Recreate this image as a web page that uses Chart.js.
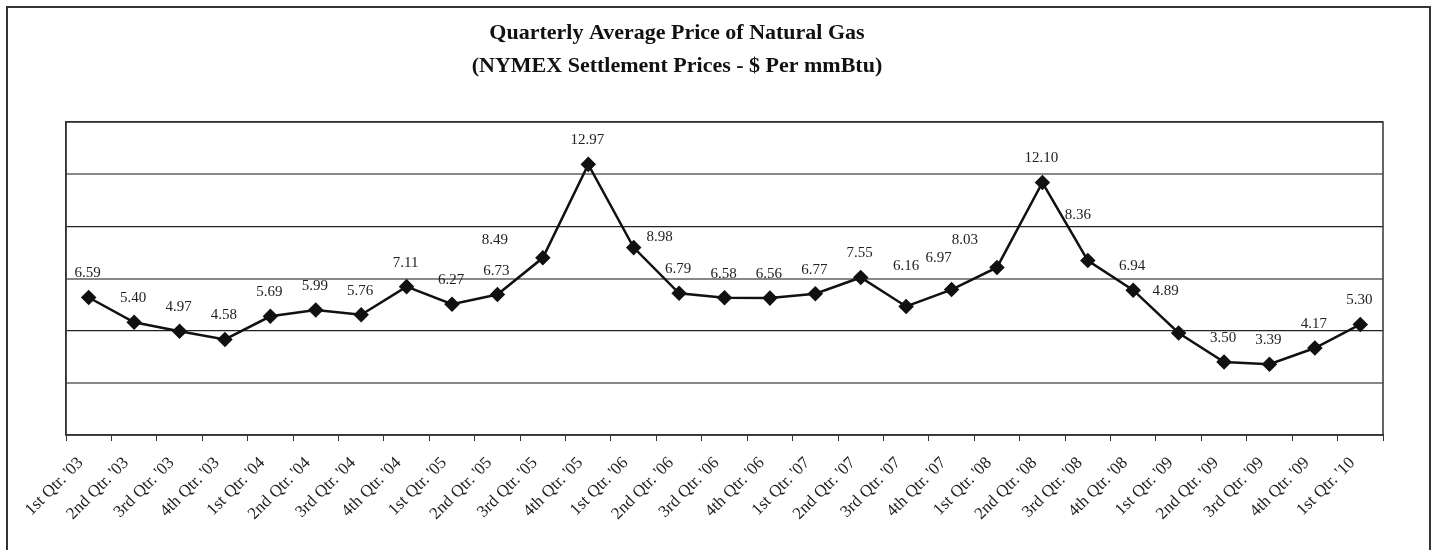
<!DOCTYPE html>
<html>
<head>
<meta charset="utf-8">
<script src="https://cdn.jsdelivr.net/npm/chart.js@4"></script>
<style>
  html, body { margin: 0; padding: 0; background: #fff; }
  #wrap { position: relative; width: 1432px; height: 550px; }
</style>
</head>
<body>
<div id="wrap"><canvas id="gasChart" width="1432" height="550"></canvas></div>
<script>
// Quarters along the x axis
const quarters = [
    "1st Qtr. '03", "2nd Qtr. '03", "3rd Qtr. '03", "4th Qtr. '03",
    "1st Qtr. '04", "2nd Qtr. '04", "3rd Qtr. '04", "4th Qtr. '04",
    "1st Qtr. '05", "2nd Qtr. '05", "3rd Qtr. '05", "4th Qtr. '05",
    "1st Qtr. '06", "2nd Qtr. '06", "3rd Qtr. '06", "4th Qtr. '06",
    "1st Qtr. '07", "2nd Qtr. '07", "3rd Qtr. '07", "4th Qtr. '07",
    "1st Qtr. '08", "2nd Qtr. '08", "3rd Qtr. '08", "4th Qtr. '08",
    "1st Qtr. '09", "2nd Qtr. '09", "3rd Qtr. '09", "4th Qtr. '09",
    "1st Qtr. '10"
];

// NYMEX settlement price, $ per mmBtu
const prices = [
    6.59, 5.40, 4.97, 4.58,
    5.69, 5.99, 5.76, 7.11,
    6.27, 6.73, 8.49, 12.97,
    8.98, 6.79, 6.58, 6.56,
    6.77, 7.55, 6.16, 6.97,
    8.03, 12.10, 8.36, 6.94,
    4.89, 3.50, 3.39, 4.17,
    5.30
];

const titleLines = [
    'Quarterly Average Price of Natural Gas',
    '(NYMEX Settlement Prices - $ Per mmBtu)'
];

const serif = '"Liberation Serif", "DejaVu Serif", serif';

// label nudges (dx, dy) where the original placed them off the point
const labelNudge = {
    10: [-48, -18], 12: [26, -11], 18: [0, -40], 19: [-13, -31],
    20: [-32, -27], 22: [-10, -45], 24: [-13, -42]
};

const framePlugin = {
    id: 'frame',
    beforeDraw(chart) {
        const c = chart.ctx;
        c.save();
        c.fillStyle = '#fff';
        c.fillRect(0, 0, chart.width, chart.height);
        c.strokeStyle = '#333';
        c.lineWidth = 2;
        c.strokeRect(7, 7, 1423, 560);
        // title
        c.fillStyle = '#111';
        c.font = 'bold 22px ' + serif;
        c.textAlign = 'center';
        c.textBaseline = 'middle';
        c.fillText(titleLines[0], 677, 33);
        c.fillText(titleLines[1], 677, 66);
        c.restore();
    },
    afterDraw(chart) {
        const a = chart.chartArea;
        const c = chart.ctx;
        c.save();
        c.strokeStyle = '#333';
        c.lineWidth = 1.5;
        c.strokeRect(a.left, a.top, a.right - a.left, a.bottom - a.top);
        c.restore();
    }
};

const valueLabels = {
    id: 'valueLabels',
    afterDatasetsDraw(chart) {
        const c = chart.ctx;
        const meta = chart.getDatasetMeta(0);
        c.save();
        c.font = '15px ' + serif;
        c.fillStyle = '#222';
        c.textAlign = 'center';
        c.textBaseline = 'middle';
        meta.data.forEach((pt, i) => {
            const n = labelNudge[i] || [-1, -24];
            c.fillText(prices[i].toFixed(2), pt.x + n[0], pt.y + n[1]);
        });
        c.restore();
    }
};

new Chart(document.getElementById('gasChart'), {
    type: 'line',
    data: {
        labels: quarters,
        datasets: [{
            data: prices,
            borderColor: '#111',
            borderWidth: 2.5,
            pointStyle: 'rectRot',
            pointRadius: 6,
            pointBackgroundColor: '#111',
            pointBorderColor: '#111',
            tension: 0
        }]
    },
    options: {
        responsive: false,
        animation: false,
        layout: { padding: { left: 66, right: 49, top: 122, bottom: 0 } },
        plugins: {
            legend: { display: false },
            tooltip: { enabled: false },
            title: { display: false }
        },
        scales: {
            x: {
                offset: true,
                grid: {
                    offset: true,
                    drawOnChartArea: false,
                    drawTicks: true,
                    tickLength: 6,
                    color: '#333'
                },
                border: { color: '#333', width: 1.5 },
                ticks: {
                    minRotation: 45,
                    maxRotation: 45,
                    autoSkip: false,
                    padding: 12,
                    labelOffset: -8,
                    color: '#222',
                    font: { family: serif, size: 17 }
                },
                afterFit(s) { s.height = 115; }
            },
            y: {
                min: 0,
                max: 15,
                ticks: { display: false, stepSize: 2.5 },
                grid: {
                    drawTicks: false,
                    color: (ctx) => (ctx.tick && ctx.tick.value % 5 === 0) ? '#222' : '#888',
                    lineWidth: (ctx) => (ctx.tick && ctx.tick.value % 5 === 0) ? 1.2 : 2
                },
                border: { color: '#333', width: 1.5 },
                afterFit(s) { s.width = 0; }
            }
        }
    },
    plugins: [framePlugin, valueLabels]
});
</script>
</body>
</html>
